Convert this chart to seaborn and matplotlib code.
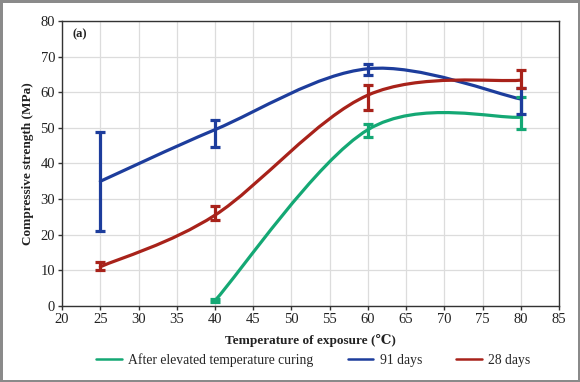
import numpy as np
import matplotlib
matplotlib.use("Agg")
import matplotlib.pyplot as plt
from matplotlib.path import Path
from matplotlib.patches import PathPatch
from matplotlib.lines import Line2D
import seaborn as sns

# temperature of exposure (degC)
temp_curing = [40, 60, 80]
temp_days = [25, 40, 60, 80]

# compressive strength (MPa) with error bar lower / upper ends
curing_mean = [1.5, 49.5, 53.0]
curing_low = [1.0, 47.5, 49.6]
curing_high = [2.0, 51.1, 58.8]

d91_mean = [35.0, 49.5, 66.6, 58.1]
d91_low = [21.0, 44.5, 64.8, 53.9]
d91_high = [48.8, 52.3, 67.9, 61.3]

d28_mean = [11.0, 25.5, 59.2, 63.4]
d28_low = [10.0, 24.0, 55.0, 61.2]
d28_high = [12.3, 28.0, 62.0, 66.2]

labels = ["After elevated temperature curing", "91 days", "28 days"]
colors = ["#14a874", "#1d3d9c", "#a8221a"]

sns.set_theme(style="whitegrid")
plt.rcParams["font.family"] = ["Liberation Serif", "DejaVu Serif"]


def smooth_path(xs, ys):
    # Excel-like smoothed line as cubic bezier segments
    pts = np.column_stack([xs, ys]).astype(float)
    n = len(pts)
    verts = [pts[0]]
    codes = [Path.MOVETO]
    for i in range(n - 1):
        p0 = pts[i - 1] if i > 0 else pts[i]
        p1, p2 = pts[i], pts[i + 1]
        p3 = pts[i + 2] if i + 2 < n else pts[i + 1]
        verts += [p1 + (p2 - p0) / 6, p2 - (p3 - p1) / 6, p2]
        codes += [Path.CURVE4] * 3
    return Path(verts, codes)


fig = plt.figure(figsize=(5.8, 3.82), dpi=100)
fig.patch.set_edgecolor("#8a8a8a")
fig.patch.set_linewidth(2.5)
ax = fig.add_axes([0.107, 0.199, 0.857, 0.746])
ax.set_facecolor("white")

series = [
    (temp_curing, curing_mean, curing_low, curing_high),
    (temp_days, d91_mean, d91_low, d91_high),
    (temp_days, d28_mean, d28_low, d28_high),
]
for (xs, m, lo, hi), c in zip(series, colors):
    ax.add_patch(PathPatch(smooth_path(xs, m), facecolor="none", edgecolor=c,
                           lw=2.3, zorder=3, capstyle="round"))
    m = np.array(m)
    yerr = [m - np.array(lo), np.array(hi) - m]
    ax.errorbar(xs, m, yerr=yerr, fmt="none", ecolor=c, elinewidth=2.3,
                capsize=3.5, capthick=2.3, zorder=4)

ax.set_xlim(20, 85)
ax.set_ylim(0, 80)
ax.set_xticks(range(20, 86, 5))
ax.set_yticks(range(0, 81, 10))
ax.grid(True, color="#dcdcdc", lw=0.9)
for s in ax.spines.values():
    s.set_visible(True)
    s.set_color("#333333")
    s.set_linewidth(1.0)
ax.tick_params(axis="both", which="both", direction="out", length=3,
               width=1, color="#333333", labelsize=10.5, pad=2,
               labelcolor="#222222", left=True, bottom=True)

ax.set_xlabel("Temperature of exposure (\u2103)", fontsize=9.5,
              fontweight="bold", labelpad=6, color="#222222")
ax.set_ylabel("Compressive strength (MPa)", fontsize=9.5,
              fontweight="bold", labelpad=5, color="#222222")
ax.text(0.022, 0.955, "(a)", transform=ax.transAxes, fontsize=9,
        fontweight="bold", va="center", ha="left", color="#222222")

handles = [Line2D([], [], color=c, lw=1.8) for c in colors]
fig.legend(handles, labels, loc="center", bbox_to_anchor=(0.54, 0.058),
           ncol=3, frameon=False, fontsize=9.8, handlelength=1.9,
           columnspacing=2.5, handletextpad=0.45)

fig.savefig("out.png", dpi=100, edgecolor=fig.get_edgecolor())
